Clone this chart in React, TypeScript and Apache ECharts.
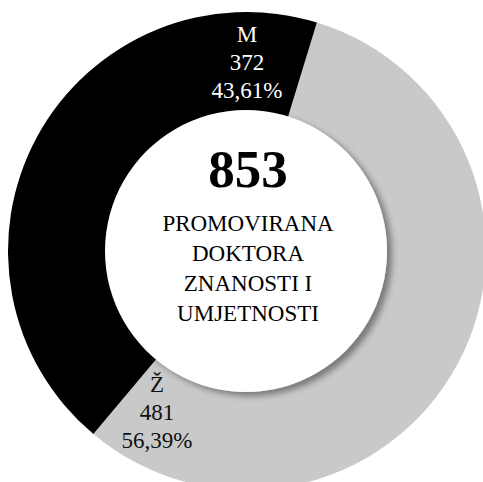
import React, { useEffect, useRef } from "react";
import * as echarts from "echarts";

const categories = ["Ž", "M"];
const values = [481, 372];
const colors = ["#c9c9c9", "#000000"];
const labelColors = ["#111111", "#ffffff"];
const labelPos = [
  [157, 412],
  [247, 62],
];
const centerNumber = "853";
const centerLines = ["PROMOVIRANA", "DOKTORA", "ZNANOSTI I", "UMJETNOSTI"];

const FONT = '"Liberation Serif", "Times New Roman", serif';

export default function App() {
  const ref = useRef<HTMLDivElement>(null);
  useEffect(() => {
    if (!ref.current) return;
    const chart = echarts.init(ref.current, null, { renderer: "svg" });
    const total = values.reduce((a, b) => a + b, 0);
    const cx = 247;
    const cy = 251;
    chart.setOption({
      animation: false,
      backgroundColor: "#ffffff",
      series: [
        {
          type: "pie",
          center: [cx, cy],
          radius: [138, 239],
          startAngle: 73,
          clockwise: true,
          silent: true,
          data: categories.map((c, i) => ({
            name: c,
            value: values[i],
            itemStyle: { color: colors[i] },
            label: { color: labelColors[i] },
          })),
          label: {
            show: true,
            position: "inside",
            fontFamily: FONT,
            fontSize: 23,
            lineHeight: 28,
            align: "center",
            formatter: (p: any) =>
              `${p.name}\n${p.value}\n${((p.value / total) * 100)
                .toFixed(2)
                .replace(".", ",")}%`,
          },
          labelLine: { show: false },
          labelLayout: (params: any) => ({
            x: labelPos[params.dataIndex][0],
            y: labelPos[params.dataIndex][1],
            align: "center",
            verticalAlign: "middle",
          }),
        },
      ],
      graphic: [
        {
          type: "circle",
          z: 10,
          shape: { cx: cx - 1, cy: cy, r: 141 },
          style: {
            fill: "#ffffff",
            shadowColor: "rgba(0,0,0,0.4)",
            shadowBlur: 6,
            shadowOffsetX: 5,
            shadowOffsetY: 4,
          },
        },
        {
          type: "text",
          z: 11,
          x: 248,
          y: 169,
          style: {
            text: centerNumber,
            fontFamily: FONT,
            fontWeight: "bold",
            fontSize: 53,
            fill: "#000000",
            align: "center",
            verticalAlign: "middle",
          },
        },
        {
          type: "text",
          z: 11,
          x: 248,
          y: 268,
          style: {
            text: centerLines.join("\n"),
            fontFamily: FONT,
            fontSize: 23,
            lineHeight: 30,
            fill: "#000000",
            align: "center",
            verticalAlign: "middle",
          },
        },
      ],
    });
    return () => chart.dispose();
  }, []);
  return (
    <div
      ref={ref}
      style={{ position: "absolute", left: 0, top: 0, width: 483, height: 482 }}
    />
  );
}
